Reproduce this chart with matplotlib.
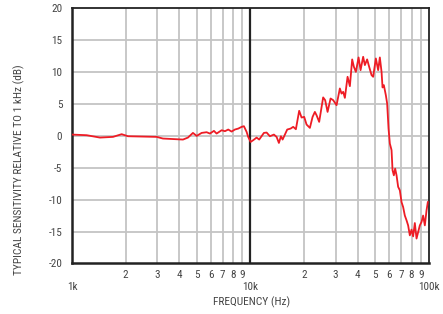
import matplotlib
matplotlib.use("Agg")
import matplotlib.pyplot as plt
from matplotlib.ticker import FixedLocator, FixedFormatter

plt.rcParams['font.family'] = ['Roboto Condensed', 'DejaVu Sans']

freq_hz = [1000, 1209, 1435, 1698, 1898, 2060, 2982, 3234, 4188, 4467, 4764, 5000,
           5328, 5683, 5930, 6246, 6465, 6900, 7200, 7510, 7845, 8185, 8550, 8930,
           9196, 9521, 9721, 10026, 10368, 10831, 11200, 11900, 12324, 12860, 13545,
           14024, 14446, 14824, 15153, 16080, 16800, 17370, 17985, 18765, 19355,
           20015, 20640, 21544, 22310, 22980, 23490, 24290, 25570, 26240, 27070,
           28140, 29100, 30400, 31720, 32420, 33110, 33840, 35040, 36100, 37190,
           38010, 39000, 40390, 41440, 42850, 43810, 45110, 46290, 47750, 48750,
           50480, 52000, 53150, 54330, 55030, 55960, 57420, 58400, 59460, 60470,
           61490, 61810, 62610, 63680, 64760, 65930, 67300, 68790, 70320, 71780,
           73370, 75010, 76560, 78260, 80000, 81660, 83480, 85330, 87110, 89040,
           91020, 92920, 94980, 97080, 98720]
sens_db = [0.18, 0.08, -0.29, -0.18, 0.24, -0.08, -0.18, -0.44, -0.6, -0.29, 0.44, -0.03,
           0.44, 0.55, 0.34, 0.76, 0.34, 0.86, 0.71, 0.97, 0.65, 0.97, 1.12, 1.39,
           1.49, 0.6, -0.19, -0.97, -0.7, -0.29, -0.6, 0.44, 0.5, -0.08, 0.18,
           -0.19, -1.13, -0.08, -0.6, 0.97, 1.12, 1.39, 1.02, 3.9, 2.85,
           2.95, 1.75, 1.23, 2.95, 3.73, 3.2, 2.17, 6.0, 5.57, 3.73,
           5.83, 5.57, 4.78, 7.4, 6.6, 6.87, 5.93, 9.23, 7.76, 11.95,
           10.8, 10.0, 12.26, 10.27, 12.36, 11.06, 11.95, 10.8, 9.49, 9.23,
           12.1, 10.27, 12.26, 10.0, 7.56, 7.92, 6.35, 5.05, 1.12, -1.23,
           -2.0, -2.27, -5.4, -6.2, -5.15, -6.2, -8.0, -8.55, -10.4, -11.17,
           -12.5, -13.25, -14.04, -15.6, -14.7, -15.76, -13.67, -16.1, -15.1, -14.04,
           -13.5, -12.5, -14.04, -11.7, -10.4]

y_ticks = [-20, -15, -10, -5, 0, 5, 10, 15, 20]
major_x = [1000, 10000, 100000]
major_labels = ['1k', '10k', '100k']
minor_x = [m * d for d in (1000, 10000) for m in range(2, 10)]
minor_labels = [str(m) for d in (1000, 10000) for m in range(2, 10)]

fig = plt.figure(figsize=(4.43, 3.14), dpi=100)
ax = fig.add_axes([0.1625, 0.161, 0.8055, 0.8135])
ax.set_xscale('log')
ax.set_xlim(1000, 100000)
ax.set_ylim(-20, 20)

grid_c = '#c4c4c4'
for x in minor_x:
    ax.axvline(x, color=grid_c, lw=1.3, zorder=1)
for y in y_ticks[1:-1]:
    ax.axhline(y, color=grid_c, lw=1.3, zorder=1)
ax.axvline(10000, color='#222222', lw=1.6, zorder=2)

ax.plot(freq_hz, sens_db, color='#ee1c25', lw=1.3, zorder=3)

ax.xaxis.set_major_locator(FixedLocator(major_x))
ax.xaxis.set_major_formatter(FixedFormatter(major_labels))
ax.xaxis.set_minor_locator(FixedLocator(minor_x))
ax.xaxis.set_minor_formatter(FixedFormatter(minor_labels))
ax.set_yticks(y_ticks)
ax.set_yticklabels([str(v) for v in y_ticks])

txt_c = '#444444'
fs_t = 8
fs_l = 8.2
ax.tick_params(axis='x', which='major', length=0, pad=13.5, labelsize=fs_t, labelcolor=txt_c)
ax.tick_params(axis='x', which='minor', length=0, pad=5, labelsize=fs_t, labelcolor=txt_c)
ax.tick_params(axis='y', length=0, pad=7, labelsize=fs_t, labelcolor=txt_c)

for s in ('left', 'bottom'):
    ax.spines[s].set_linewidth(1.8)
    ax.spines[s].set_color('#222222')
for s in ('top', 'right'):
    ax.spines[s].set_linewidth(1.3)
    ax.spines[s].set_color('#222222')

ax.set_xlabel('FREQUENCY (Hz)', fontsize=fs_l, color=txt_c)
ax.xaxis.set_label_coords(0.503, -0.13)
ax.set_ylabel('TYPICAL SENSITIVITY RELATIVE TO 1 kHz (dB)', fontsize=fs_l, color=txt_c)
ax.yaxis.set_label_coords(-0.132, 0.368)

fig.savefig('out.png', dpi=100)
